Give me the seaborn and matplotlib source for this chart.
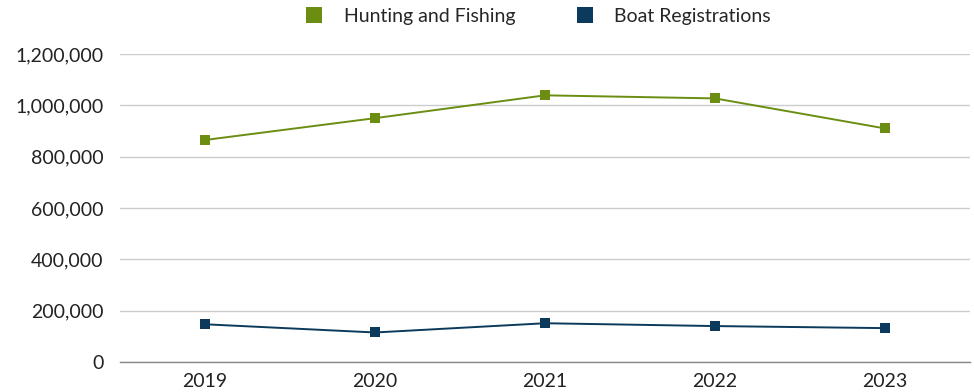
import matplotlib
matplotlib.use("Agg")
import matplotlib.pyplot as plt
import matplotlib.ticker as mticker
import seaborn as sns
import pandas as pd
from matplotlib.lines import Line2D

years = ["2019", "2020", "2021", "2022", "2023"]
hunting_fishing = [865000, 950000, 1039000, 1027000, 910000]
boat_registrations = [147000, 115000, 151000, 140000, 132000]
series_names = ["Hunting and Fishing", "Boat Registrations"]
y_ticks = [0, 200000, 400000, 600000, 800000, 1000000, 1200000]

green = "#6B8E12"
navy = "#0B3A5C"

df = pd.DataFrame({
    "year": years * 2,
    "value": hunting_fishing + boat_registrations,
    "series": [series_names[0]] * len(years) + [series_names[1]] * len(years),
})

sns.set_theme(style="white")
plt.rcParams["font.family"] = ["Lato", "DejaVu Sans"]

fig = plt.figure(figsize=(9.74, 3.92), dpi=100)
ax = fig.add_axes([120 / 974, 1 - 362 / 392, (970 - 120) / 974, (362 - 54) / 392])

sns.lineplot(data=df, x="year", y="value", hue="series",
             palette={series_names[0]: green, series_names[1]: navy},
             marker="s", markersize=7, markeredgewidth=0, linewidth=1.4,
             sort=False, ax=ax, legend=False)

ax.set_xlim(-0.5, len(years) - 0.5)
ax.set_ylim(0, 1200000)
ax.set_yticks(y_ticks)
ax.yaxis.set_major_formatter(mticker.FuncFormatter(lambda v, p: f"{int(v):,}"))
ax.grid(axis="y", color="#cccccc", linewidth=1)
ax.set_axisbelow(True)
for s in ["top", "right", "left"]:
    ax.spines[s].set_visible(False)
ax.spines["bottom"].set_color("#888888")
ax.spines["bottom"].set_linewidth(1)
ax.set_xlabel("")
ax.set_ylabel("")
ax.tick_params(axis="both", length=0, labelsize=14, colors="#222222", pad=8)
ax.tick_params(axis="y", pad=12)

handles = [Line2D([], [], linestyle="none", marker="s", markersize=11, color=c, markeredgewidth=0)
           for c in (green, navy)]
fig.legend(handles, series_names, loc="upper center", bbox_to_anchor=(533 / 974, 1.025),
           ncol=2, frameon=False, fontsize=14, handletextpad=0.5, columnspacing=2.6)

fig.savefig("out.png", dpi=100)
